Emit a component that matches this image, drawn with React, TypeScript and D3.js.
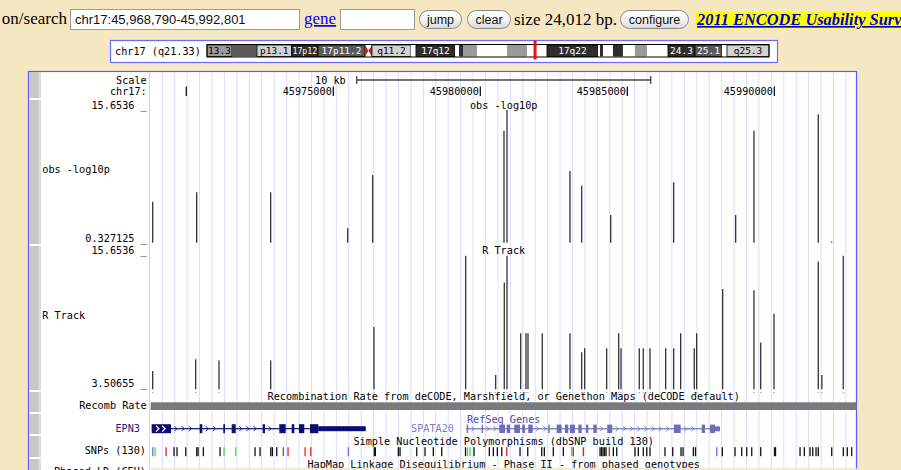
import * as d3 from "d3";

// ---- window ----
const chromStart = 45968790;
const chromEnd = 45992801;

const rulerTicks = [45970000, 45975000, 45980000, 45985000, 45990000];
const rulerLabels = ["", "45975000", "45980000", "45985000", "45990000"];

// ---- obs -log10p track ----
const obsRange = [0.327125, 15.6536];
const obsPos = [45968858, 45970354, 45972871, 45975490, 45976340, 45980806, 45980908, 45983050, 45983448, 45984435, 45986577, 45988686, 45989308, 45991495, 45991950];
const obsVal = [4.79, 5.82, 5.82, 1.9, 7.7, 12.53, 14.78, 8.14, 6.54, 3.35, 6.91, 3.35, 12.53, 14.32, 0.45];

// ---- R Track ----
const rRange = [3.50655, 15.6536];
const rPos = [45968858, 45970320, 45971113, 45972871, 45976384, 45979503, 45980523, 45980816, 45980908, 45981374, 45981554, 45981622, 45982108, 45983050, 45983448, 45983550, 45984298, 45984707, 45984785, 45985407, 45985543, 45985771, 45986305, 45986577, 45986815, 45987278, 45987359, 45988244, 45989308, 45989536, 45989989, 45991495, 45991617, 45992345];
const rVal = [5.09, 6.11, 5.99, 5.99, 8.89, 15.07, 4.75, 12.76, 15.07, 8.37, 8.37, 8.37, 8.37, 8.37, 6.72, 7.07, 7.07, 8.37, 7.07, 7.07, 7.07, 7.07, 7.07, 7.07, 8.37, 7.07, 8.37, 12.18, 12.09, 7.55, 10.04, 14.58, 4.75, 15.07];

// ---- RefSeq genes ----
const epn3Tx = [45968824, 45976102];
const epn3CdsEnd = 45974490;
const epn3ExStarts = [45968824, 45970457, 45971259, 45971545, 45972599, 45973164, 45973585, 45973834, 45974208];
const epn3ExEnds = [45969480, 45970545, 45971317, 45971681, 45972677, 45973381, 45973674, 45974014, 45976102];

const spataTx = [45979513, 45988152];
const spataCdsEnd = 45987982;
const spataExStarts = [45979537, 45980047, 45980646, 45980898, 45981156, 45981428, 45981632, 45982312, 45982598, 45982880, 45983050, 45983333, 45983595, 45983843, 45984319, 45986587, 45987530, 45987812];
const spataExEnds = [45979588, 45980092, 45980840, 45981010, 45981350, 45981520, 45981782, 45982363, 45982768, 45982993, 45983221, 45983448, 45983673, 45983958, 45984489, 45986815, 45987642, 45988152];

// ---- SNPs (130) ----
const snpPos = [45968858, 45968936, 45969310, 45969582, 45969684, 45969980, 45970354, 45970399, 45970579, 45971147, 45971283, 45971681, 45972337, 45972507, 45972871, 45972926, 45973075, 45973300, 45973460, 45974038, 45974232, 45975510, 45976395, 45976429, 45977211, 45977269, 45977837, 45978119, 45978401, 45978687, 45979496, 45979564, 45979649, 45979785, 45980306, 45980442, 45980578, 45980728, 45980898, 45981350, 45981612, 45982088, 45982176, 45982482, 45982823, 45983108, 45983163, 45983503, 45984071, 45984122, 45984173, 45984224, 45984275, 45984387, 45984523, 45984639, 45985261, 45985373, 45985543, 45985659, 45985771, 45986281, 45986543, 45986825, 45986894, 45987244, 45987318, 45988040, 45988230, 45988662, 45988890, 45989060, 45989230, 45989536, 45990005, 45990039, 45990873, 45991019, 45991213, 45991305, 45991417, 45991495, 45991951, 45992345, 45992481, 45992631];
const snpClass = ["b", "g", "r", "k", "k", "k", "k", "k", "k", "k", "g", "g", "k", "k", "k", "k", "k", "r", "r", "r", "r", "b", "k", "k", "k", "k", "k", "k", "k", "k", "k", "g", "g", "k", "k", "k", "k", "k", "r", "k", "k", "k", "k", "k", "k", "g", "r", "r", "k", "k", "k", "k", "k", "r", "k", "k", "k", "k", "k", "k", "k", "k", "k", "k", "k", "k", "k", "b", "k", "k", "k", "k", "k", "k", "k", "k", "k", "k", "k", "k", "k", "k", "k", "k", "k", "k"];
const snpColors: Record<string, string> = { k: "#111111", r: "#ee2222", g: "#44dd55", b: "#6f6fff" };

// ---- chr17 ideogram (Mb) ----
const chromLengthMb = 78.77;
const currentMb = 45.98;
const bandEnds = [3.5, 7.0, 11.87, 15.56, 22.14, 23.12, 28.59, 29.29, 34.76, 35.32, 35.88, 37.84, 42.05, 44.85, 47.65, 54.8, 55.08, 55.5, 56.9, 58.3, 59.99, 61.67, 64.61, 68.4, 72.18, 72.88, 78.77];
const bandStains = ["gpos50", "gpos75", "gpos25", "gpos100", "gpos75", "acen", "gpos25", "gneg", "gpos100", "gneg", "gpos100", "gpos50", "gneg", "gpos50", "gneg", "gpos100", "gneg", "gpos100", "gneg", "gpos100", "gneg", "gpos50", "gneg", "gpos100", "gpos75", "gneg", "gpos25"];
const bandLabels = ["13.3", "", "p13.1", "17p12", "17p11.2", "", "q11.2", "", "17q12", "", "", "", "", "", "", "17q22", "", "", "", "", "", "", "", "24.3", "25.1", "", "q25.3"];
const stainFill: Record<string, string> = { gneg: "#ffffff", gpos25: "#d2d2d2", gpos50: "#9a9a9a", gpos75: "#5a5a5a", gpos100: "#2e2e2e", acen: "#ffffff" };

const MONO = "DejaVu Sans Mono";
const FS = 10.2;

function Mono({ x, y, anchor = "start", fill = "#000", children }: any) {
  return (
    <text x={x} y={y} textAnchor={anchor} fill={fill} fontFamily={MONO} fontSize={FS}>
      {children}
    </text>
  );
}

function Button({ x, w, label }: { x: number; w: number; label: string }) {
  return (
    <g>
      <rect x={x + 0.5} y={10.5} width={w} height={18} rx={9} fill="url(#btn)" stroke="#8a8a8a" />
      <text x={x + w / 2 + 0.5} y={24} textAnchor="middle" fontFamily="Liberation Sans" fontSize={12.5} fill="#111">
        {label}
      </text>
    </g>
  );
}

export default function App() {
  const x = d3.scaleLinear().domain([chromStart, chromEnd + 1]).range([150.7, 856.7]);
  const yObs = d3.scaleLinear().domain(obsRange).range([242.7, 102]);
  const yR = d3.scaleLinear().domain(rRange).range([389.3, 249]);
  const xIdeo = d3.scaleLinear().domain([0, chromLengthMb]).range([207, 769]);

  const dataL = 150.7;
  const dataR = 856.7;
  const mid = (dataL + dataR) / 2;
  const guides = d3.range(162.3, 852, 12.43);
  const sideButtons = [[72, 98], [100, 244], [246, 390], [392, 412], [414, 434], [436, 457], [459, 472]];

  const barWidth = x(chromStart + 10000) - x(chromStart);

  // intron chevrons
  const chevrons = (starts: number[], ends: number[], y: number, color: string) => {
    const out: any[] = [];
    for (let i = 0; i < starts.length - 1; i++) {
      const a = x(ends[i]) + 3;
      const b = x(starts[i + 1]) - 3;
      for (let c = a + 2; c < b; c += 7.2) {
        out.push(
          <path key={`${color}${i}-${c}`} d={`M${c - 1.5},${y - 2.5}L${c + 1},${y}L${c - 1.5},${y + 2.5}`} fill="none" stroke={color} strokeWidth={0.9} />
        );
      }
    }
    return out;
  };

  const gene = (tx: number[], cdsEnd: number, starts: number[], ends: number[], color: string, thickTop: number, thickH: number) => {
    const mid = thickTop + thickH / 2;
    return (
      <g>
        <rect x={x(tx[0])} y={mid - 0.6} width={x(tx[1]) - x(tx[0])} height={1.2} fill={color} />
        {chevrons(starts, ends, mid, color)}
        {starts.map((s, i) => {
          const e = ends[i];
          const parts: any[] = [];
          const cs = Math.min(e, cdsEnd);
          if (cs > s)
            parts.push(<rect key={`t${i}`} x={x(s)} y={thickTop} width={Math.max(1.3, x(cs) - x(s))} height={thickH} fill={color} />);
          if (e > cdsEnd) {
            const us = Math.max(s, cdsEnd);
            parts.push(<rect key={`u${i}`} x={x(us)} y={mid - 2.5} width={Math.max(1.3, x(e) - x(us))} height={5} fill={color} />);
          }
          return parts;
        })}
      </g>
    );
  };

  let prevEnd = 0;
  const bands = bandEnds.map((end, i) => {
    const start = prevEnd;
    prevEnd = end;
    return { start, end, stain: bandStains[i], label: bandLabels[i] };
  });

  return (
    <svg width={901} height={470} style={{ position: "absolute", left: 0, top: 0 }}>
      <defs>
        <linearGradient id="btn" x1="0" y1="0" x2="0" y2="1">
          <stop offset="0%" stopColor="#ffffff" />
          <stop offset="55%" stopColor="#f2f2f2" />
          <stop offset="100%" stopColor="#d8d8d8" />
        </linearGradient>
      </defs>
      <rect width={901} height={470} fill="#f6e7c3" />

      {/* ---- top form row ---- */}
      <text x={67} y={24} textAnchor="end" fontFamily="Liberation Serif" fontSize={17} fill="#000">on/search</text>
      <rect x={70.5} y={9.5} width={229} height={20} fill="#fff" stroke="#9a9a9a" />
      <text x={75} y={24} fontFamily="Liberation Sans" fontSize={13} fill="#111">chr17:45,968,790-45,992,801</text>
      <text x={304} y={24} fontFamily="Liberation Serif" fontSize={17} fill="#0000ee" textDecoration="underline">gene</text>
      <rect x={340.5} y={9.5} width={74} height={20} fill="#fff" stroke="#9a9a9a" />
      <Button x={419} w={42} label="jump" />
      <Button x={467} w={43} label="clear" />
      <text x={514} y={25} fontFamily="Liberation Serif" fontSize={17} fill="#000">size 24,012 bp.</text>
      <Button x={620} w={68} label="configure" />
      <rect x={696} y={11.5} width={205} height={17} fill="#ffff00" />
      <text x={697} y={25} fontFamily="Liberation Serif" fontSize={16.4} fontWeight="bold" fontStyle="italic" fill="#0000cc" textDecoration="underline">2011 ENCODE Usability Survey</text>

      {/* ---- ideogram ---- */}
      <rect x={110.5} y={40.5} width={667} height={22} fill="#fff" stroke="#6a6aff" strokeWidth={1.2} />
      <Mono x={115} y={55}>chr17 (q21.33)</Mono>
      {bands.map((b, i) => {
        const x0 = xIdeo(b.start);
        const x1 = xIdeo(b.end);
        if (b.stain === "acen") {
          return (
            <path key={i} d={`M${x0},45L${x1},56.5L${x1},45L${x0},56.5Z`} fill="#cc2020" />
          );
        }
        const dark = b.stain === "gpos75" || b.stain === "gpos100";
        const natural = b.label.length * 5.7;
        const fit = Math.min(natural, x1 - x0 - 1.5);
        return (
          <g key={i}>
            <rect x={x0} y={45} width={x1 - x0} height={11.5} fill={stainFill[b.stain]} stroke={b.label ? "#000" : "none"} strokeWidth={0.8} />
            {b.label && (
              <text x={(x0 + x1) / 2} y={54} textAnchor="middle" fontFamily={MONO} fontSize={9.5} fill={dark ? "#fff" : "#000"} textLength={fit} lengthAdjust="spacingAndGlyphs">
                {b.label}
              </text>
            )}
          </g>
        );
      })}
      <rect x={207} y={44.5} width={562} height={12.5} fill="none" stroke="#000" strokeWidth={1} />
      <rect x={xIdeo(currentMb) - 1.5} y={40.5} width={3} height={19} fill="#ee1111" />

      {/* ---- browser image ---- */}
      <rect x={28.5} y={71.5} width={828} height={410} fill="#fff" stroke="#5a5aff" strokeWidth={1.2} />
      {sideButtons.map(([a, b], i) => (
        <g key={i}>
          <rect x={29.2} y={a} width={11.5} height={b - a} fill="#c8c8c8" />
          <rect x={38.7} y={a} width={2} height={b - a} fill="#dedede" />
        </g>
      ))}
      <line x1={149.5} x2={149.5} y1={72} y2={470} stroke="#ffc4c4" strokeWidth={1} />
      {guides.map((g, i) => (
        <line key={i} x1={g} x2={g} y1={72} y2={470} stroke="#dcdcff" strokeWidth={1} />
      ))}

      {/* ruler */}
      <Mono x={146.7} y={83.6} anchor="end">Scale</Mono>
      <Mono x={146.7} y={95.3} anchor="end">chr17:</Mono>
      <Mono x={mid - barWidth / 2 - 11} y={83.6} anchor="end">10 kb</Mono>
      <g stroke="#444" strokeWidth={1.3}>
        <line x1={mid - barWidth / 2} x2={mid + barWidth / 2} y1={80} y2={80} />
        <line x1={mid - barWidth / 2} x2={mid - barWidth / 2} y1={76} y2={84} />
        <line x1={mid + barWidth / 2} x2={mid + barWidth / 2} y1={76} y2={84} />
      </g>
      {rulerTicks.map((t, i) => (
        <g key={t}>
          <line x1={x(t)} x2={x(t)} y1={86.5} y2={96} stroke="#000" strokeWidth={1.2} />
          {rulerLabels[i] && <Mono x={x(t) - 1.5} y={95.3} anchor="end">{rulerLabels[i]}</Mono>}
        </g>
      ))}

      {/* obs -log10p */}
      <Mono x={146.7} y={108.6} anchor="end">15.6536 _</Mono>
      <Mono x={146.7} y={242} anchor="end">0.327125 _</Mono>
      <Mono x={42.3} y={173} >obs -log10p</Mono>
      <Mono x={mid} y={108.6} anchor="middle">obs -log10p</Mono>
      {obsPos.map((p, i) => (
        <line key={i} x1={x(p)} x2={x(p)} y1={yObs(obsRange[0]) } y2={Math.min(yObs(obsVal[i]), yObs(obsRange[0]) - 1)} stroke="#333" strokeWidth={1.3} />
      ))}

      {/* R Track */}
      <Mono x={146.7} y={254.3} anchor="end">15.6536 _</Mono>
      <Mono x={146.7} y={387} anchor="end">3.50655 _</Mono>
      <Mono x={42.3} y={318.6}>R Track</Mono>
      <Mono x={mid} y={254.3} anchor="middle">R Track</Mono>
      {rPos.map((p, i) => (
        <g key={i}>
          <line x1={x(p)} x2={x(p)} y1={yR(rRange[0])} y2={yR(rVal[i])} stroke="#333" strokeWidth={1.3} />
          <rect x={x(p) - 0.5} y={392} width={1} height={1} fill="#888" />
        </g>
      ))}

      {/* Recomb rate */}
      <Mono x={146.7} y={408.6} anchor="end">Recomb Rate</Mono>
      <rect x={dataL} y={402.3} width={dataR - dataL} height={7.7} fill="#7a7a7a" />
      <Mono x={mid} y={399.6} anchor="middle">Recombination Rate from deCODE, Marshfield, or Genethon Maps (deCODE default)</Mono>

      {/* RefSeq Genes */}
      <Mono x={mid} y={423} anchor="middle" fill="#4b4bab">RefSeq Genes</Mono>
      <Mono x={140} y={432} anchor="end" fill="#1c1c88">EPN3</Mono>
      {gene(epn3Tx, epn3CdsEnd, epn3ExStarts, epn3ExEnds, "#0c0c78", 424.2, 9)}
      {[0.3, 0.62].map((f) => {
        const cx = x(epn3ExStarts[0]) + f * (x(epn3ExEnds[0]) - x(epn3ExStarts[0]));
        return <path key={f} d={`M${cx - 1.5},${425.8}L${cx + 1.5},${428.7}L${cx - 1.5},${431.6}`} fill="none" stroke="#fff" strokeWidth={1.2} />;
      })}
      <Mono x={x(spataTx[0]) - 12} y={432} anchor="end" fill="#7b7bc8">SPATA20</Mono>
      {gene(spataTx, spataCdsEnd, spataExStarts, spataExEnds, "#6e6eb8", 424.6, 8.4)}

      {/* SNPs */}
      <Mono x={mid} y={445.3} anchor="middle">Simple Nucleotide Polymorphisms (dbSNP build 130)</Mono>
      <Mono x={146} y={454.3} anchor="end">SNPs (130)</Mono>
      {snpPos.map((p, i) => (
        <rect key={i} x={x(p) - 0.6} y={447.2} width={1.3} height={9} fill={snpColors[snpClass[i]]} />
      ))}

      {/* HapMap LD */}
      <Mono x={mid} y={467.6} anchor="middle">HapMap Linkage Disequilibrium - Phase II - from phased genotypes</Mono>
      <Mono x={146} y={474.5} anchor="end">Phased LD (CEU)</Mono>
      <rect x={dataL} y={467.8} width={dataR - dataL} height={3} fill="#f2ead2" />
    </svg>
  );
}
